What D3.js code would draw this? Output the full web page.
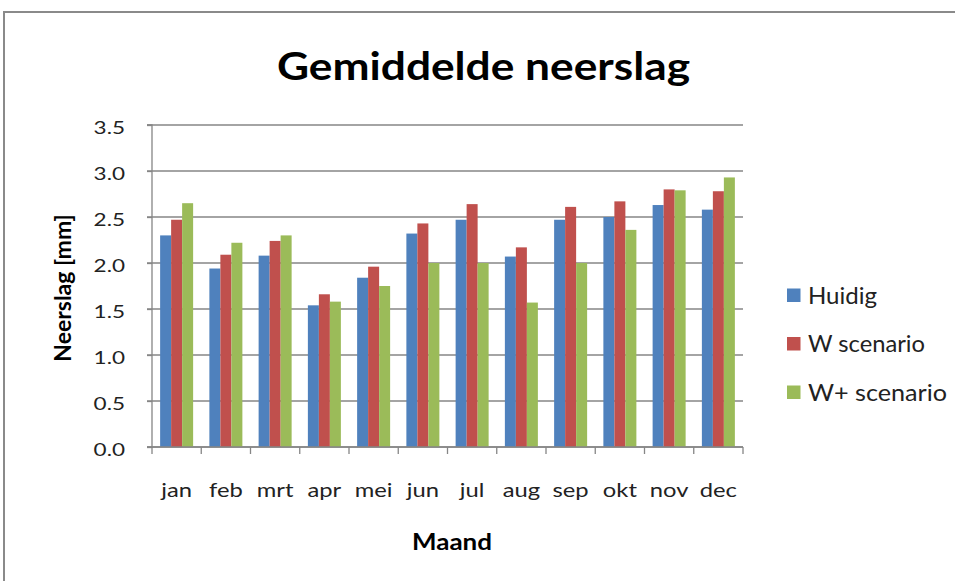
<!DOCTYPE html>
<html><head><meta charset="utf-8">
<script src="https://cdn.jsdelivr.net/npm/d3@7"></script>
<style>body{margin:0;background:#fff}svg{display:block}</style>
</head><body>
<script>
const months = ["jan","feb","mrt","apr","mei","jun","jul","aug","sep","okt","nov","dec"];
const seriesNames = ["Huidig","W scenario","W+ scenario"];
const huidig    = [2.30,1.94,2.08,1.54,1.84,2.32,2.47,2.07,2.47,2.50,2.63,2.58];
const wScenario = [2.47,2.09,2.24,1.66,1.96,2.43,2.64,2.17,2.61,2.67,2.80,2.78];
const wPlus     = [2.65,2.22,2.30,1.58,1.75,2.00,2.00,1.57,2.00,2.36,2.79,2.93];
const yTicks = [0,0.5,1,1.5,2,2.5,3,3.5];
const colors = ["#4F81BD","#C0504D","#9BBB59"];
const allSeries = [huidig,wScenario,wPlus];

(function(){
const W=955,H=581;
const svg=d3.select("body").append("svg").attr("width",W).attr("height",H);
const font="Lato, 'Open Sans', sans-serif";

function stretch(sel,k){
  sel.each(function(){
    const w=this.getComputedTextLength();
    d3.select(this).attr("textLength",w*k).attr("lengthAdjust","spacingAndGlyphs");
  });
}
function fit(sel,w){ sel.attr("textLength",w).attr("lengthAdjust","spacingAndGlyphs"); }

// outer frame
svg.append("rect").attr("x",4).attr("y",12).attr("width",W+10).attr("height",H+10)
  .attr("fill","none").attr("stroke","#8a8a8a").attr("stroke-width",2);

const pl=152,pr=743,pt=125,pb=447;
const x=d3.scaleBand().domain(months).range([pl,pr]).paddingInner(0).paddingOuter(0);
const inner=d3.scaleBand().domain(d3.range(3)).range([x.bandwidth()*0.165,x.bandwidth()*0.835]);
const y=d3.scaleLinear().domain([0,3.5]).range([pb,pt]);

// gridlines
svg.append("g").selectAll("line").data(yTicks).join("line")
  .attr("x1",pl-5).attr("x2",pr).attr("y1",d=>y(d)).attr("y2",d=>y(d))
  .attr("stroke","#868686").attr("stroke-width",1.3);

// bars
const g=svg.append("g");
allSeries.forEach((s,si)=>{
  g.selectAll(null).data(s).join("rect")
    .attr("x",(d,i)=>x(months[i])+inner(si))
    .attr("width",inner.bandwidth())
    .attr("y",d=>y(d)).attr("height",d=>pb-y(d))
    .attr("fill",colors[si]);
});

// y axis
const yAxis=d3.axisLeft(y).tickValues(yTicks).tickFormat(d3.format(".1f")).tickSize(5).tickPadding(22);
const ya=svg.append("g").attr("transform",`translate(${pl},0)`).call(yAxis);
ya.select(".domain").attr("stroke","#868686").attr("stroke-width",1.3).attr("d",`M-5,${pt}H0V${pb}H-5`);
ya.selectAll(".tick line").attr("stroke","#868686").attr("stroke-width",1.3);
const yt=ya.selectAll("text").attr("font-family",font).attr("font-size",18).attr("fill","#222")
  .attr("dy",null).attr("y",8.5);
stretch(yt,1.25);

// x axis
const xa=svg.append("g").attr("transform",`translate(0,${pb})`);
xa.append("line").attr("x1",pl).attr("x2",pr).attr("stroke","#868686").attr("stroke-width",1.3);
xa.selectAll(".tk").data(d3.range(13)).join("line")
  .attr("x1",i=>pl+i*x.bandwidth()).attr("x2",i=>pl+i*x.bandwidth())
  .attr("y1",0).attr("y2",7).attr("stroke","#868686").attr("stroke-width",1.3);
const xt=xa.selectAll("text").data(months).join("text")
  .attr("x",d=>x(d)+x.bandwidth()/2).attr("y",50)
  .attr("text-anchor","middle").attr("font-family",font).attr("font-size",19).attr("fill","#222")
  .text(d=>d);
stretch(xt,1.25);

// titles
const t=svg.append("text").attr("x",277).attr("y",80)
  .attr("font-family",font).attr("font-weight","bold").attr("font-size",39).attr("fill","#000")
  .text("Gemiddelde neerslag");
fit(t,413);
const xtitle=svg.append("text").attr("x",412).attr("y",550)
  .attr("font-family",font).attr("font-weight","bold").attr("font-size",23).attr("fill","#000")
  .text("Maand");
fit(xtitle,80);
const ytitle=svg.append("text").attr("transform","translate(70.5,288) rotate(-90)").attr("text-anchor","middle")
  .attr("font-family",font).attr("font-weight","bold").attr("font-size",23).attr("fill","#000")
  .text("Neerslag [mm]");

// legend
const legW=[69,117,139];
const lg=svg.append("g");
seriesNames.forEach((n,i)=>{
  const yy=295+i*48.5;
  lg.append("rect").attr("x",787).attr("y",yy-6.5).attr("width",13.5).attr("height",13.5).attr("fill",colors[i]);
  const tx=lg.append("text").attr("x",808).attr("y",yy+8.5).attr("font-family",font).attr("font-size",23).attr("fill","#222").text(n);
  fit(tx,legW[i]);
});
})();
</script>
</body></html>
